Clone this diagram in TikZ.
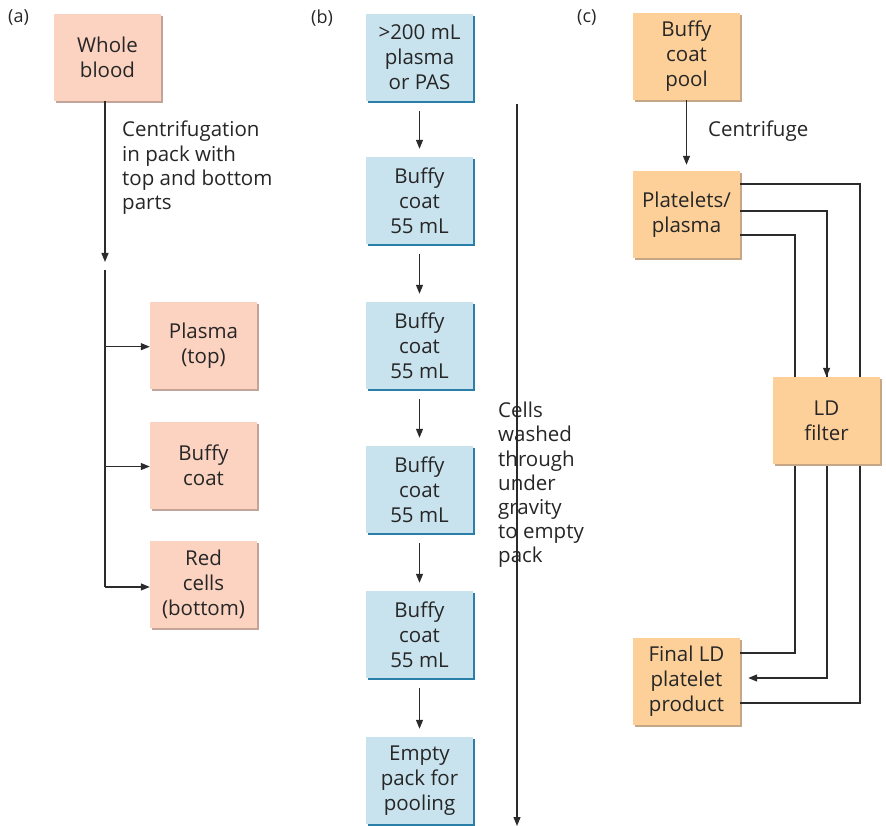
\documentclass[tikz,border=0pt]{standalone}
\usepackage{fontspec}
\setmainfont{Open Sans}
\usetikzlibrary{arrows.meta}
\definecolor{pinkfill}{HTML}{FCD3C1}
\definecolor{pinkedge}{HTML}{C4A497}
\definecolor{bluefill}{HTML}{C9E3EE}
\definecolor{blueedge}{HTML}{2A7FA8}
\definecolor{orangefill}{HTML}{FDD09A}
\definecolor{orangeedge}{HTML}{C7A685}
\definecolor{linecol}{HTML}{2B2B2B}
\begin{document}
\begin{tikzpicture}[x=1pt,y=-1pt,
  font=\fontsize{20.5}{25}\selectfont,
  box/.style={minimum width=107pt,minimum height=87pt,inner sep=0pt,
    align=center,text=black!85},
  pinkbox/.style={box,fill=pinkfill,
    preaction={fill=pinkedge,transform canvas={xshift=2pt,yshift=-2pt}}},
  bluebox/.style={box,fill=bluefill,
    preaction={fill=blueedge,transform canvas={xshift=2pt,yshift=-2pt}}},
  orangebox/.style={box,fill=orangefill,
    preaction={fill=orangeedge,transform canvas={xshift=2pt,yshift=-2pt}}},
  conn/.style={draw=linecol,line width=1.2pt},
  arr/.style={conn,-{Triangle[length=9pt,width=7pt]}},
  note/.style={align=left,anchor=north west,inner sep=0pt,text=black!85,
    font=\fontsize{20.5}{24.2}\selectfont},
  panel/.style={anchor=west,inner sep=0pt,text=black!85,
    font=\fontsize{18}{22}\selectfont}]
\useasboundingbox (0,0) rectangle (886,826);

% panel labels
\node[panel] (la) at (8,18) {(a)};
\node[panel] (lb) at (311,18) {(b)};
\node[panel] (lc) at (577,18) {(c)};

% ---------- (a) ----------
\node[pinkbox] (whole) at (107.5,57.5) {Whole\\blood};
\node[pinkbox] (plasma) at (203.5,345.5) {Plasma\\(top)};
\node[pinkbox] (buffya) at (203.5,465.5) {Buffy\\coat};
\node[pinkbox] (red) at (203.5,584.5) {Red\\cells\\(bottom)};
\coordinate (ahead) at (105,262);
\coordinate (atop) at (105,270);
\coordinate (abot) at (105,587);
\draw[arr] (whole.south -| ahead) -- (ahead);
\node[note] (centri) at (122,121) {Centrifugation\\in pack with\\top and bottom\\parts};
\draw[conn] (atop) -- (abot);
\draw[arr] (105,346.7) -- (plasma.west |- 0,346.7);
\draw[arr] (105,466.5) -- (buffya.west |- 0,466.5);
\draw[arr] (abot) -- (red.west |- abot);

% ---------- (b) ----------
\node[bluebox] (pas) at (419.5,57.5) {>200 mL\\plasma\\or PAS};
\node[bluebox] (b1) at (419.5,200.5) {Buffy\\coat\\55 mL};
\node[bluebox] (b2) at (419.5,345.5) {Buffy\\coat\\55 mL};
\node[bluebox] (b3) at (419.5,489.5) {Buffy\\coat\\55 mL};
\node[bluebox] (b4) at (419.5,634.5) {Buffy\\coat\\55 mL};
\node[bluebox] (empty) at (419.5,780.5) {Empty\\pack for\\pooling};
\foreach \u/\v in {pas/b1,b1/b2,b2/b3,b3/b4,b4/empty}
  \draw[arr,shorten <=10pt,shorten >=8pt] (\u.south) -- (\v.north);
\coordinate (wtop) at (517,104);
\coordinate (wbot) at (517,826);
\draw[arr] (wtop) -- (wbot);
\node[note] (washed) at (498,402) {Cells\\washed\\through\\under\\gravity\\to empty\\pack};

% ---------- (c) ----------
\node[orangebox] (pool) at (686.5,56.5) {Buffy\\coat\\pool};
\node[orangebox] (plate) at (686.5,214.5) {Platelets/\\plasma};
\node[orangebox] (final) at (686.5,681.5) {Final LD\\platelet\\product};
\coordinate (c1) at (860,184);
\coordinate (c2) at (827,211);
\coordinate (c3) at (795,235);
\coordinate (d1) at (860,703);
\coordinate (d2) at (827,678);
\coordinate (d3) at (795,653);
\draw[arr,shorten >=6pt] (pool.south) -- (plate.north);
\node[note] (cfg) at (708,121) {Centrifuge};
% parallel runs through the filter
\draw[conn] (plate.east |- c1) -- (c1) -- (d1) -- (final.east |- d1);
\draw[conn] (plate.east |- c3) -- (c3) -- (d3) -- (final.east |- d3);
\draw[conn] (plate.east |- c2) -- (c2) -- (827,377);
\draw[arr,shorten >=8pt] (827,464) -- (d2) -- (final.east |- d2);
\node[orangebox] (filter) at (826.5,420.5) {LD\\filter};
\draw[arr] (827,330) -- (filter.north);
\end{tikzpicture}
\end{document}
